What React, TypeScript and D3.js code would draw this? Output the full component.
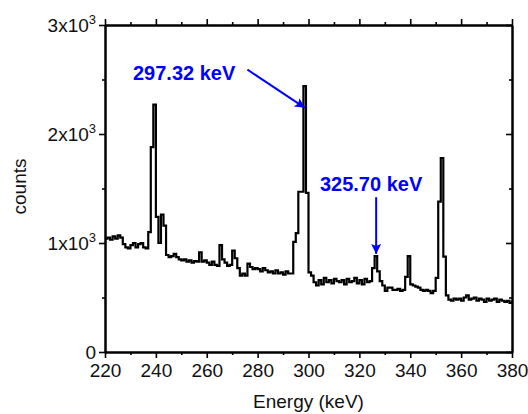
import React, { useEffect, useRef } from "react";
import * as d3 from "d3";

// spectrum channels: 1 keV bins starting at 220 keV
const binStart = 220;
const binWidth = 1;
const counts = [
  1040, 1050, 1030, 1060, 1040, 1070, 1050, 990, 960, 950,
  980, 1000, 960, 990, 1000, 960, 950, 1100, 1880, 2270,
  1240, 1000, 1260, 1160, 890, 870, 880, 900, 870, 850,
  840, 850, 830, 840, 820, 835, 830, 915, 830, 840,
  820, 800, 830, 800, 790, 980, 850, 820, 790, 800,
  930, 860, 770, 700, 720, 700, 810, 780, 760, 770,
  760, 740, 770, 750, 730, 740, 720, 750, 720, 730,
  710, 740, 720, 720, 1010, 1090, 1470, 1470, 2440, 1460,
  730, 700, 640, 610, 660, 620, 680, 640, 660, 630,
  670, 650, 640, 660, 620, 670, 640, 650, 680, 630,
  660, 620, 670, 640, 650, 770, 880, 740, 650, 610,
  560, 590, 590, 570, 570, 580, 560, 570, 690, 880,
  620, 610, 600, 590, 570, 560, 570, 560, 540, 560,
  680, 1380, 1780, 875, 520, 480, 470, 490, 480, 490,
  470, 500, 520, 480, 490, 500, 470, 490, 480, 460,
  490, 470, 480, 490, 460, 480, 470, 460, 470, 450, 470,
];

const xMajorTicks = [220, 240, 260, 280, 300, 320, 340, 360, 380];
const xMinorTicks = [230, 250, 270, 290, 310, 330, 350, 370];
const yMajorTicks = [0, 1000, 2000, 3000];
const yMinorTicks = [500, 1500, 2500];
const yTickMantissa = ["0", "1x10", "2x10", "3x10"];

// peak labels: text anchor (keV, counts) and arrow from/to
const labelTexts = ["297.32 keV", "325.70 keV"];
const labelPos = [[231, 2500], [304.5, 1480]];
const arrowFrom = [[276, 2590], [326.6, 1420]];
const arrowTo = [[298.6, 2240], [326.6, 900]];

const FONT = "Arial, 'Liberation Sans', sans-serif";

export default function App() {
  const ref = useRef<SVGSVGElement>(null);

  useEffect(() => {
    var margin = { top: 25, right: 16, bottom: 62, left: 105 },
      W = 528,
      H = 414,
      w = W - margin.left - margin.right,
      h = H - margin.top - margin.bottom;

    var svg = d3.select(ref.current);
    svg.selectAll("*").remove();

    svg
      .append("defs")
      .append("marker")
      .attr("id", "arrowhead")
      .attr("viewBox", "0 0 10 10")
      .attr("refX", 10)
      .attr("refY", 5)
      .attr("markerUnits", "userSpaceOnUse")
      .attr("markerWidth", 14)
      .attr("markerHeight", 10)
      .attr("orient", "auto")
      .append("path")
      .attr("d", "M0,0 L10,5 L0,10 L2,5 Z")
      .attr("fill", "#0000ff");

    var g = svg
      .append("g")
      .attr("transform", `translate(${margin.left}, ${margin.top})`);

    var x = d3.scaleLinear().domain([220, 380]).range([0, w]);
    var y = d3.scaleLinear().domain([0, 3000]).range([h, 0]);

    var data = counts.map((c, i) => ({ e: binStart + i * binWidth, c: c }));

    // spectrum
    g.append("path")
      .datum(data)
      .attr("fill", "none")
      .attr("stroke", "#000")
      .attr("stroke-width", 2.2)
      .attr("d", d3.line<any>().curve(d3.curveStepAfter).x(d => x(d.e)).y(d => y(d.c)));

    // axes
    function styleAxis(sel, labels) {
      sel.select(".domain").attr("stroke-width", 2);
      sel.selectAll(".tick line").attr("stroke-width", 1.6);
      if (!labels) sel.selectAll(".tick text").remove();
    }

    var bottom = g.append("g").attr("transform", `translate(0, ${h})`);
    bottom.append("g").call(d3.axisBottom(x).tickValues(xMinorTicks).tickSize(3).tickSizeOuter(0)).call(styleAxis, false);
    bottom.append("g").call(d3.axisBottom(x).tickValues(xMajorTicks).tickSize(6).tickSizeOuter(0).tickPadding(6)).call(styleAxis, true);
    bottom
      .selectAll(".tick text")
      .attr("font-family", FONT)
      .attr("font-size", 19)
      .attr("fill", "#111");

    var top = g.append("g");
    top.append("g").call(d3.axisTop(x).tickValues(xMinorTicks).tickSize(3).tickSizeOuter(0)).call(styleAxis, false);
    top.append("g").call(d3.axisTop(x).tickValues(xMajorTicks).tickSize(6).tickSizeOuter(0)).call(styleAxis, false);

    var left = g.append("g");
    left.append("g").call(d3.axisLeft(y).tickValues(yMinorTicks).tickSize(3).tickSizeOuter(0)).call(styleAxis, false);
    left.append("g").call(d3.axisLeft(y).tickValues(yMajorTicks).tickSize(6).tickSizeOuter(0).tickPadding(3)).call(styleAxis, true);
    left
      .selectAll(".tick text")
      .attr("font-family", FONT)
      .attr("font-size", 19)
      .attr("fill", "#111")
      .each(function (d, i) {
        var t = d3.select(this);
        t.text(null);
        t.append("tspan").text(yTickMantissa[i]);
        if (d !== 0) {
          t.append("tspan").attr("font-size", 13).attr("dy", "-0.55em").text("3");
        }
      });

    var right = g.append("g").attr("transform", `translate(${w}, 0)`);
    right.append("g").call(d3.axisLeft(y).tickValues(yMinorTicks).tickSize(3).tickSizeOuter(0)).call(styleAxis, false);
    right.append("g").call(d3.axisLeft(y).tickValues(yMajorTicks).tickSize(6).tickSizeOuter(0)).call(styleAxis, false);

    // axis titles
    g.append("text")
      .attr("x", w / 2)
      .attr("y", h + 56)
      .attr("text-anchor", "middle")
      .attr("font-family", FONT)
      .attr("font-size", 19)
      .attr("fill", "#111")
      .text("Energy (keV)");

    g.append("text")
      .attr("transform", `translate(${-79}, ${h / 2 - 2}) rotate(-90)`)
      .attr("text-anchor", "middle")
      .attr("font-family", FONT)
      .attr("font-size", 19)
      .attr("fill", "#111")
      .text("counts");

    // peak annotations
    labelTexts.forEach((txt, i) => {
      g.append("text")
        .attr("x", x(labelPos[i][0]))
        .attr("y", y(labelPos[i][1]))
        .attr("font-family", FONT)
        .attr("font-size", 20)
        .attr("font-weight", "bold")
        .attr("fill", "#0000ff")
        .text(txt);
      g.append("line")
        .attr("x1", x(arrowFrom[i][0]))
        .attr("y1", y(arrowFrom[i][1]))
        .attr("x2", x(arrowTo[i][0]))
        .attr("y2", y(arrowTo[i][1]))
        .attr("stroke", "#0000ff")
        .attr("stroke-width", 2)
        .attr("marker-end", "url(#arrowhead)");
    });
  }, []);

  return (
    <svg
      ref={ref}
      width={528}
      height={414}
      style={{ position: "absolute", left: 0, top: 0, background: "#fff" }}
    ></svg>
  );
}
